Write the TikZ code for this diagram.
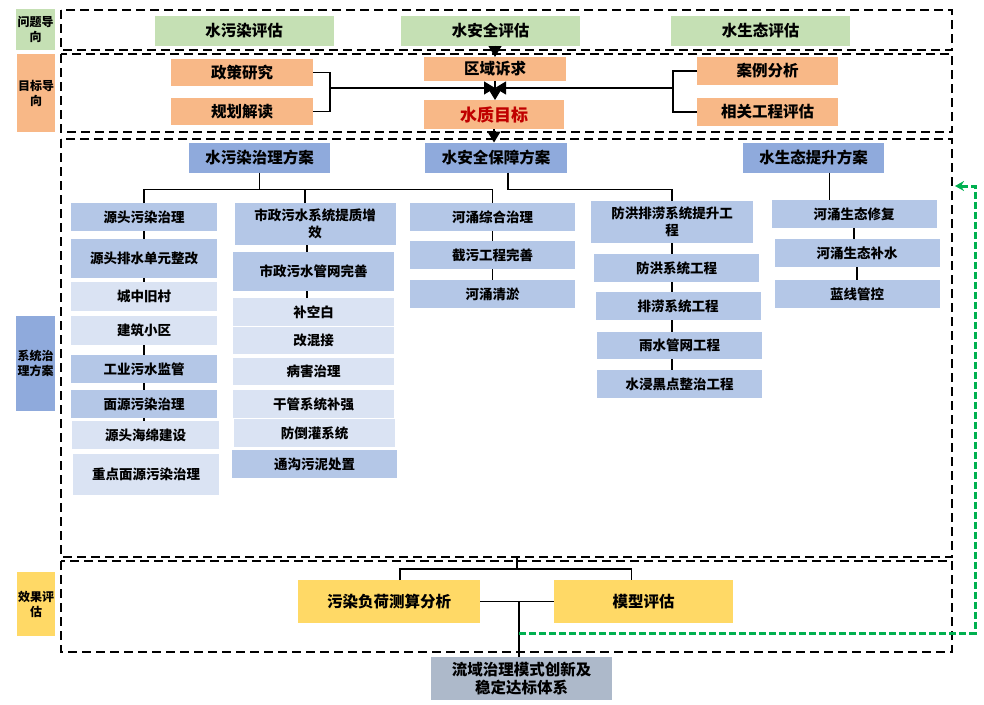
\documentclass[tikz,border=0pt]{standalone}
\usepackage{fontspec}
\setmainfont{Noto Sans CJK SC}
\usepackage{tikz}
\usetikzlibrary{
    arrows.meta,
    calc,
    positioning
}
\definecolor{evalgreen}{HTML}{C5E0B4}
\definecolor{goalorange}{HTML}{F8B887}
\definecolor{planblue}{HTML}{8FAADC}
\definecolor{midblue}{HTML}{B4C7E7}
\definecolor{paleblue}{HTML}{DAE3F3}
\definecolor{effyellow}{HTML}{FFD966}
\definecolor{resgrey}{HTML}{ADB9CA}
\definecolor{loopgreen}{HTML}{00B050}
\definecolor{goalred}{HTML}{C00000}
\tikzset{
    every picture/.style = {
        > = {Triangle[width = 13pt, length = 11pt]},
        x = 1pt,
        y = -1pt,
        line width = 1.2pt
    },
    every node/.style = {
        inner sep = 0pt,
        outer sep = 0pt,
        align = center,
        font = \bfseries
    },
    boxsize/.style args = {#1 by #2}{
        minimum width = #1pt,
        minimum height = #2pt
    },
    big/.style = {font = \bfseries\fontsize{15.5}{18}\selectfont},
    small/.style = {font = \bfseries\fontsize{13.5}{17}\selectfont},
    side/.style = {font = \bfseries\fontsize{12}{15}\selectfont},
    evalbox/.style = {big, fill = evalgreen, boxsize = 179 by 30},
    goalbox/.style = {big, fill = goalorange, boxsize = 142 by 27},
    planbox/.style = {big, fill = planblue, boxsize = 141 by 30},
    sub/.style = {small, fill = midblue},
    leaf/.style = {small, fill = paleblue},
    effbox/.style = {big, fill = effyellow, boxsize = 181 by 43},
    frame/.style = {draw, line width = 2.4pt, dash pattern = on 9pt off 5pt},
    feedback/.style = {
        draw = loopgreen,
        line width = 3pt,
        dash pattern = on 7pt off 3pt,
        -{Stealth[width = 10pt, length = 9pt]}
    }
}

\begin{document}
\begin{tikzpicture}
    % \draw[step = 50, lightgray, very thin] (0, 0) grid (984, 704);
    \useasboundingbox (0, 0) rectangle (984, 704);

    \draw[frame] (61, 10) rectangle (952, 50);
    \draw[frame] (61, 54) rectangle (952, 132);
    \draw[frame] (61, 139) rectangle (952, 557);
    \draw[frame] (61, 561) rectangle (952, 652);

    \node[side, fill = evalgreen, boxsize = 39 by 41] (s1) at (35.5, 29.5) {问题导\\向};
    \node[side, fill = goalorange, boxsize = 38 by 78] (s2) at (36, 93) {目标导\\向};
    \node[side, fill = planblue, boxsize = 39 by 95] (s3) at (35.5, 363.5) {系统治\\理方案};
    \node[side, fill = effyellow, boxsize = 38 by 64] (s4) at (36, 604) {效果评\\估};

    \node[evalbox] (e1) at (244, 30.5) {水污染评估};
    \node[evalbox] (e2) at (490.5, 30.5) {水安全评估};
    \node[evalbox] (e3) at (760.5, 30.5) {水生态评估};

    \node[goalbox] (g1) at (242, 72.5) {政策研究};
    \node[goalbox] (g2) at (242, 111.5) {规划解读};
    \node[goalbox, boxsize = 142 by 24] (g3) at (495, 69) {区域诉求};
    \node[goalbox, boxsize = 140 by 29, text = goalred, font = \bfseries\fontsize{17}{20}\selectfont] (g4) at (494, 114.5) {水质目标};
    \node[goalbox, boxsize = 141 by 28] (g5) at (767.5, 71) {案例分析};
    \node[goalbox, boxsize = 141 by 28] (g6) at (767.5, 112) {相关工程评估};

    \coordinate (lj) at (330, 88);
    \coordinate (rj) at (673, 88);
    \coordinate (meet) at (495, 88);
    \draw (g1.east) -| (lj) |- (g2.east);
    \draw (g5.west) -| (rj) |- (g6.west);
    \draw[->] (lj) -- (meet);
    \draw[->] (rj) -- (meet);
    \draw[->] (e2.south -| g3.north) -- (g3.north);
    \draw[->] (g3.south) -- (g3.south |- g4.north);

    \node[planbox] (p1) at (259.5, 157.5) {水污染治理方案};
    \node[planbox, boxsize = 142 by 30] (p2) at (496, 157.5) {水安全保障方案};
    \node[planbox] (p3) at (813.5, 157.5) {水生态提升方案};
    \draw[->] (g4.south) -- (g4.south |- p2.north);

    % water pollution
    \node[sub, boxsize = 146 by 28] (a1) at (144, 217) {源头污染治理};
    \node[sub, boxsize = 146 by 39] (a2) at (144, 258.5) {源头排水单元整改};
    \node[leaf, boxsize = 146 by 29] (a3) at (144, 296.5) {城中旧村};
    \node[leaf, boxsize = 146 by 29] (a4) at (144, 330.5) {建筑小区};
    \node[sub, boxsize = 146 by 28] (a5) at (144, 369) {工业污水监管};
    \node[sub, boxsize = 146 by 28] (a6) at (144, 404) {面源污染治理};
    \node[leaf, boxsize = 147 by 28] (a7) at (145.5, 435) {源头海绵建设};
    \node[leaf, boxsize = 146 by 41] (a8) at (146, 474.5) {重点面源污染治理};

    \node[sub, boxsize = 161 by 42] (b1) at (315, 224) {市政污水系统提质增\\效};
    \node[sub, boxsize = 161 by 39] (b2) at (313.5, 271.5) {市政污水管网完善};
    \node[leaf, boxsize = 161 by 28] (b3) at (313.5, 312) {补空白};
    \node[leaf, boxsize = 161 by 27] (b4) at (313.5, 340.5) {改混接};
    \node[leaf, boxsize = 161 by 27] (b5) at (313.5, 371.5) {病害治理};
    \node[leaf, boxsize = 161 by 28] (b6) at (313.5, 404) {干管系统补强};
    \node[leaf, boxsize = 161 by 28] (b7) at (314.5, 433) {防倒灌系统};
    \node[sub, boxsize = 165 by 28] (b8) at (314.5, 464) {通沟污泥处置};

    \node[sub, boxsize = 165 by 28] (c1) at (492.5, 217) {河涌综合治理};
    \node[sub, boxsize = 165 by 28] (c2) at (492.5, 255) {截污工程完善};
    \node[sub, boxsize = 165 by 28] (c3) at (492.5, 294) {河涌清淤};

    \draw (p1.south) -- ++(0, 17) coordinate (t1);
    \draw (a1.north) |- (t1) -| (c1.north);
    \draw ([xshift = -10pt]b1.north) -- ([xshift = -10pt]b1.north |- t1);
    \draw (a1.south) -- (a2.north);
    \draw (a2.south) -- (a3.north);
    \draw (a4.south) -- (a5.north);
    \draw (a5.south) -- (a6.north);
    \draw (a6.south) -- (a6.south |- a7.north);
    \draw ([xshift = -8pt]b1.south) -- ([xshift = -8pt]b1.south |- b2.north);
    \draw ([xshift = -6.5pt]b2.south) -- ([xshift = -6.5pt]b2.south |- b3.north);
    \draw (c1.south) -- (c2.north);
    \draw (c2.south) -- (c3.north);

    % water safety
    \node[sub, boxsize = 162 by 42] (d1) at (672, 222) {防洪排涝系统提升工\\程};
    \node[sub, boxsize = 165 by 28] (d2) at (676.5, 268) {防洪系统工程};
    \node[sub, boxsize = 165 by 28] (d3) at (678, 306) {排涝系统工程};
    \node[sub, boxsize = 165 by 27] (d4) at (679.5, 345.5) {雨水管网工程};
    \node[sub, boxsize = 165 by 28] (d5) at (679.5, 384) {水浸黑点整治工程};

    \draw ([xshift = 12pt]p2.south) |- (d1.north |- t1) -- (d1.north);
    \draw (d1.south) -- (d1.south |- d2.north);
    \draw (d2.south -| d1.south) -- (d3.north -| d1.south);
    \draw (d3.south -| d1.south) -- (d4.north -| d1.south);
    \draw (d4.south -| d1.south) -- (d5.north -| d1.south);

    % water ecology
    \node[sub, boxsize = 165 by 28] (f1) at (854, 214) {河涌生态修复};
    \node[sub, boxsize = 165 by 28] (f2) at (857, 253) {河涌生态补水};
    \node[sub, boxsize = 165 by 28] (f3) at (857, 294) {蓝线管控};

    \draw ([xshift = 16pt]p3.south) -- ([xshift = 16pt]p3.south |- f1.north);
    \draw (f1.south) -- (f1.south |- f2.north);
    \draw (f2.south) -- (f3.north);

    % effect
    \node[effbox, boxsize = 182 by 43] (y1) at (389, 601.5) {污染负荷测算分析};
    \node[effbox, boxsize = 179 by 43] (y2) at (643.5, 601.5) {模型评估};
    \node[big, fill = resgrey, boxsize = 181 by 43] (res) at (521.5, 678.5) {流域治理模式创新及\\稳定达标体系};

    \coordinate (fb) at (517, 557);
    \draw (fb) -- ++(0, 12) coordinate (t4);
    \draw ([xshift = 11pt]y1.north) |- (t4) -| ([xshift = -12pt]y2.north);
    \draw (y1.east) -- (y2.west);
    \draw ([xshift = -2.5pt]res.north) -- ([xshift = -2.5pt]res.north |- y1.east);

    \coordinate (lp1) at (519, 633);
    \coordinate (lp2) at (975, 186);
    \coordinate (lp3) at (955, 186);
    \draw[feedback] (lp1) -| (lp2) -- (lp3);
\end{tikzpicture}
\end{document}
